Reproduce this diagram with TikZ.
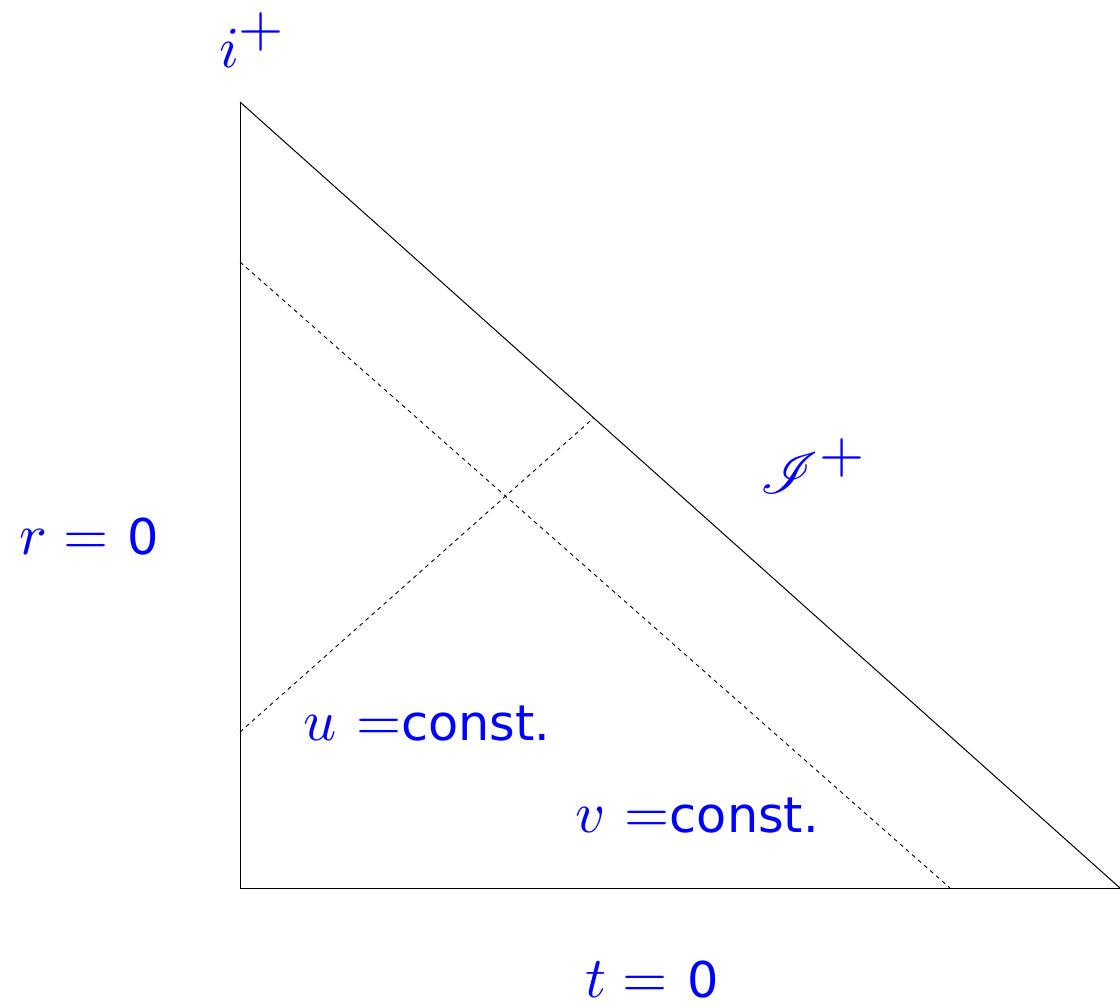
\documentclass[tikz,border=0pt]{standalone}
\usepackage[no-math]{fontspec}
\usepackage{mathrsfs}
\newfontfamily\djv{DejaVu Sans}
\usetikzlibrary{calc,intersections}
\newcommand{\sfpart}[1]{{\djv\fontsize{8.5}{10}\selectfont #1}}
\newcommand{\lab}[1]{\scalebox{2.9}{\fontsize{10}{12}\selectfont #1}}
\begin{document}
\begin{tikzpicture}[x=0.5pt,y=-0.5pt,
  lbl/.style={text=blue,inner sep=0pt},
  edge/.style={draw=black,line width=0.5pt},
  nullray/.style={draw=black,line width=0.45pt,dash pattern=on 2pt off 2pt}]
\useasboundingbox (0,0) rectangle (1120,1007);
\coordinate (A) at (240,102);
\coordinate (B) at (240,888);
\coordinate (C) at (1120,888);
\coordinate (v0) at (240,262);
\coordinate (v1) at (950,888);
\coordinate (u0) at (240,732);
\draw[edge] (A) -- (B) -- (C);
\draw[edge,name path=scri] (A) -- (C);
\path[name path=uray] (u0) -- ($(u0)+(420,-373)$);
\path[name intersections={of=scri and uray,by=u1}];
\draw[nullray] (v0) -- (v1);
\draw[nullray] (u0) -- (u1);
\node[lbl] (iplus) at (253,40) {\lab{$i^{\textstyle +}$}};
\node[lbl] (rzero) at (89,537) {\lab{$r=$ \sfpart{0}}};
\node[lbl] (scriplus) at (814,466) {\lab{$\mathscr{I}^{\textstyle +}$}};
\node[lbl] (uconst) at (427,724) {\lab{$u$ $=$\sfpart{const.}}};
\node[lbl] (vconst) at (697,816) {\lab{$v$ $=$\sfpart{const.}}};
\node[lbl] (tzero) at (652,980) {\lab{$t=$ \sfpart{0}}};
\end{tikzpicture}
\end{document}
